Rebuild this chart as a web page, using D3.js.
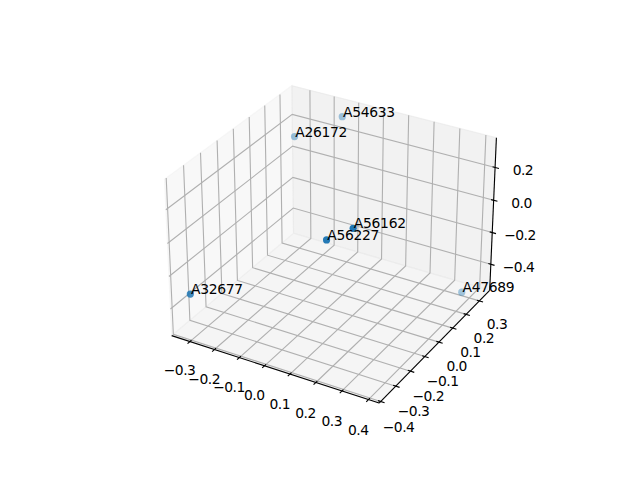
<!DOCTYPE html>
<html><head><meta charset="utf-8"><style>html,body{margin:0;background:#fff}svg{display:block}text{font-family:"DejaVu Sans";font-size:13.89px;fill:#000}</style>
<script src="https://cdnjs.cloudflare.com/ajax/libs/d3/7.8.5/d3.min.js"></script></head><body><script>
const labels=["A54633","A26172","A56162","A56227","A32677","A47689"];
const xs=[-0.149,-0.27,0.13,0.056,-0.333,0.37];
const ys=[0.35,0.226,-0.05,-0.1,-0.35,0.3];
const zs=[0.294,0.212,0.029,-0.034,-0.339,-0.544];
const xTicks=[-0.3,-0.2,-0.1,0,0.1,0.2,0.3,0.4];
const yTicks=[-0.4,-0.3,-0.2,-0.1,0,0.1,0.2,0.3];
const zTicks=[-0.4,-0.2,0,0.2];
const xLim=[-0.375,0.44],yLim=[-0.41,0.38],zLim=[-0.567,0.378];

const W=640,H=480;
const svg=d3.select("body").append("svg").attr("width",W).attr("height",H);
const box=[4,4,3].map(a=>a*1.8294640721620434/Math.hypot(4,4,3));
const sx=d3.scaleLinear(xLim,[0,box[0]]),sy=d3.scaleLinear(yLim,[0,box[1]]),sz=d3.scaleLinear(zLim,[0,box[2]]);
const px=d3.scaleLinear([-0.095,0.09],[135.9,520.7]),py=d3.scaleLinear([-0.095,0.09],[434.6,49.8]);
const el=30*Math.PI/180,az=-60*Math.PI/180,dist=10;
const w=[Math.cos(el)*Math.cos(az),Math.cos(el)*Math.sin(az),Math.sin(el)];
const nu=Math.hypot(w[0],w[1]);
const u=[-w[1]/nu,w[0]/nu,0];
const v=[w[1]*u[2]-w[2]*u[1],w[2]*u[0]-w[0]*u[2],w[0]*u[1]-w[1]*u[0]];
const dot=(a,b)=>a[0]*b[0]+a[1]*b[1]+a[2]*b[2];
function view(x,y,z){const d=[sx(x)-box[0]/2,sy(y)-box[1]/2,sz(z)-box[2]/2];
  return {xv:dot(u,d),yv:dot(v,d),depth:dist-dot(w,d)};}
function P(x,y,z){const r=view(x,y,z);return [px(r.xv/r.depth),py(r.yv/r.depth)];}
const line=d3.line();
const [x0,x1]=xLim,[y0,y1]=yLim,[z0,z1]=zLim;

[[[[x0,y0,z0],[x0,y1,z0],[x0,y1,z1],[x0,y0,z1]],0.95],
 [[[x0,y1,z0],[x1,y1,z0],[x1,y1,z1],[x0,y1,z1]],0.90],
 [[[x0,y0,z0],[x1,y0,z0],[x1,y1,z0],[x0,y1,z0]],0.925]].forEach(([q,g])=>{
  const c=d3.rgb(g*255,g*255,g*255);
  svg.append("path").attr("d",line(q.map(p=>P(...p)))+"Z").attr("fill",c).attr("fill-opacity",.5).attr("stroke",c).attr("stroke-opacity",.5).attr("stroke-width",1.1);
});
const gridG=svg.append("g").attr("fill","none").attr("stroke","#b0b0b0").attr("stroke-width",1.11);
const grid=pts=>gridG.append("path").attr("d",line(pts.map(p=>P(...p))));
xTicks.forEach(t=>grid([[t,y0,z0],[t,y1,z0],[t,y1,z1]]));
yTicks.forEach(t=>grid([[x1,t,z0],[x0,t,z0],[x0,t,z1]]));
zTicks.forEach(t=>grid([[x0,y0,t],[x0,y1,t],[x1,y1,t]]));
const axG=svg.append("g").attr("fill","none").attr("stroke","#000").attr("stroke-width",1.11);
const seg=(a,b)=>axG.append("path").attr("d",line([P(...a),P(...b)]));
seg([x0,y0,z0],[x1,y0,z0]);seg([x1,y0,z0],[x1,y1,z0]);seg([x1,y1,z0],[x1,y1,z1]);
const dx=x1-x0,dy=y1-y0;
const inn=0.012,out=0.018;
const tick=(a,b,t,off)=>{const p=P(...a);
  svg.append("text").attr("x",p[0]+off[0]).attr("y",p[1]+off[1]).attr("text-anchor","middle").attr("dy","0.36em").attr("letter-spacing","-0.5px").text(d3.format(".1f")(t).replace("-","\u2212"));
  seg(a,b);};
xTicks.forEach(t=>tick([t,y0-out*dy,z0],[t,y0+inn*dy,z0],t,[-8,27.6+2.3*t]));
yTicks.forEach(t=>tick([x1+out*dx,t,z0],[x1-inn*dx,t,z0],t,[14,23-2.9*t]));
zTicks.forEach(t=>tick([x1+out*dx,y1,t],[x1-inn*dx,y1,t],t,[24,1.5]));
const depths=labels.map((_,i)=>view(xs[i],ys[i],zs[i]).depth);
const al=d3.scaleLinear(d3.extent(depths),[1,0.4]);
const order=d3.range(labels.length).sort((a,b)=>depths[b]-depths[a]);
svg.append("g").selectAll("circle").data(order).join("circle")
 .attr("cx",i=>P(xs[i],ys[i],zs[i])[0]).attr("cy",i=>P(xs[i],ys[i],zs[i])[1]).attr("r",3.6)
 .attr("fill","#1f77b4").attr("fill-opacity",i=>al(depths[i]));
svg.append("g").selectAll("text").data(d3.range(labels.length)).join("text")
 .attr("x",i=>P(xs[i],ys[i],zs[i])[0]+0.7).attr("y",i=>P(xs[i],ys[i],zs[i])[1]).attr("letter-spacing","-0.3px").text(i=>labels[i]);
</script></body></html>
